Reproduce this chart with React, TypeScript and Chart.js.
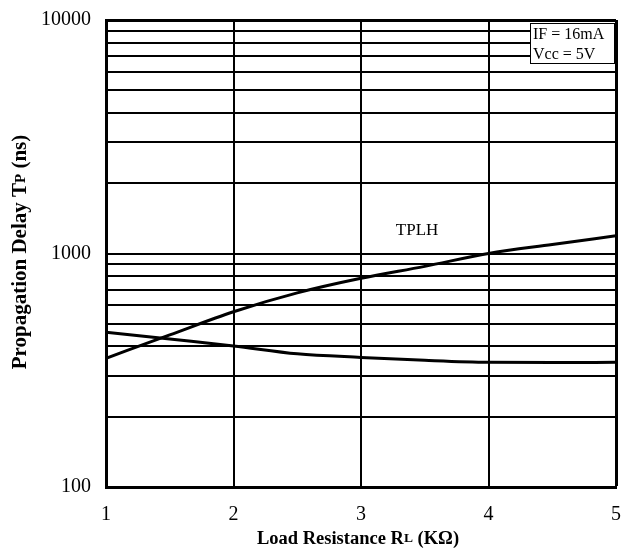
import React, { useEffect, useRef } from "react";
import { Chart, registerables } from "chart.js";

Chart.register(...registerables);

// ---- data ----
const xValues = [1, 1.5, 2, 2.5, 3, 3.5, 4, 4.5, 5];
const tplhValues = [356, 448, 563, 678, 783, 881, 1000, 1093, 1191];
const tphlValues = [460, 430, 402, 372, 359, 349, 342, 341, 342];
const xTickValues = [1, 2, 3, 4, 5];
const yGridValues = [
  100, 200, 300, 400, 500, 600, 700, 800, 900,
  1000, 2000, 3000, 4000, 5000, 6000, 7000, 8000, 9000, 10000,
];
const yLabelValues = [100, 1000, 10000];
const curveLabel = "TPLH";
const curveLabelPos = { x: 3.44, y: 1249 };
const conditionLines = ["IF = 16mA", "Vcc = 5V"];
const xTitleParts: [string, boolean][] = [["Load Resistance R", false], ["L", true], [" (KΩ)", false]];
const yTitleParts: [string, boolean][] = [["Propagation Delay T", false], ["P", true], [" (ns)", false]];

const FAMILY = "'Liberation Serif', 'Times New Roman', serif";

function drawParts(ctx: CanvasRenderingContext2D, parts: [string, boolean][], size: number, small: number) {
  let total = 0;
  const widths: number[] = [];
  for (const [t, s] of parts) {
    ctx.font = `bold ${s ? small : size}px ${FAMILY}`;
    const w = ctx.measureText(t).width;
    widths.push(w);
    total += w;
  }
  let x = -total / 2;
  parts.forEach(([t, s], i) => {
    ctx.font = `bold ${s ? small : size}px ${FAMILY}`;
    ctx.fillText(t, x, 0);
    x += widths[i];
  });
}

const annotationPlugin = {
  id: "annotations",
  afterDraw(chart: any) {
    const ctx: CanvasRenderingContext2D = chart.ctx;
    const area = chart.chartArea;
    const xs = chart.scales.x;
    const ys = chart.scales.y;
    ctx.save();
    ctx.fillStyle = "#000";

    // curve label
    ctx.font = `17px ${FAMILY}`;
    ctx.textAlign = "center";
    ctx.textBaseline = "middle";
    ctx.fillText(curveLabel, xs.getPixelForValue(curveLabelPos.x), ys.getPixelForValue(curveLabelPos.y));

    // conditions box
    const boxRight = area.right - 1;
    const boxLeft = area.right - 86;
    const boxTop = area.top + 3;
    const boxBottom = area.top + 44;
    ctx.fillStyle = "#fff";
    ctx.fillRect(boxLeft, boxTop, boxRight - boxLeft, boxBottom - boxTop);
    ctx.strokeStyle = "#000";
    ctx.lineWidth = 1;
    ctx.strokeRect(boxLeft + 0.5, boxTop + 0.5, boxRight - boxLeft - 1, boxBottom - boxTop - 1);
    ctx.fillStyle = "#000";
    ctx.font = `16px ${FAMILY}`;
    ctx.textAlign = "left";
    ctx.textBaseline = "middle";
    conditionLines.forEach((t, i) => {
      ctx.fillText(t, boxLeft + 3, boxTop + 12 + i * 20);
    });

    // axis titles
    ctx.textAlign = "left";
    ctx.textBaseline = "middle";
    ctx.save();
    ctx.translate((area.left + area.right) / 2 - 3, 539);
    drawParts(ctx, xTitleParts, 18.5, 13.5);
    ctx.restore();

    ctx.save();
    ctx.translate(21, 252);
    ctx.rotate(-Math.PI / 2);
    drawParts(ctx, yTitleParts, 21, 15);
    ctx.restore();

    ctx.restore();
  },
};

const zeroPad = (s: any) => {
  s.paddingTop = 0;
  s.paddingBottom = 0;
  s.paddingLeft = 0;
  s.paddingRight = 0;
};

export default function App() {
  const canvasRef = useRef<HTMLCanvasElement>(null);

  useEffect(() => {
    if (!canvasRef.current) return;
    const chart = new Chart(canvasRef.current, {
      type: "line",
      data: {
        datasets: [
          {
            label: "TPLH",
            data: xValues.map((x, i) => ({ x, y: tplhValues[i] })),
            borderColor: "#000",
            borderWidth: 3,
            pointRadius: 0,
            cubicInterpolationMode: "monotone",
            fill: false,
          },
          {
            label: "TPHL",
            data: xValues.map((x, i) => ({ x, y: tphlValues[i] })),
            borderColor: "#000",
            borderWidth: 3,
            pointRadius: 0,
            cubicInterpolationMode: "monotone",
            fill: false,
          },
        ],
      },
      options: {
        animation: false,
        responsive: false,
        maintainAspectRatio: false,
        layout: { padding: { top: 20, right: 16, left: 0, bottom: 0 } },
        plugins: {
          legend: { display: false },
          tooltip: { enabled: false },
          title: { display: false },
        },
        scales: {
          x: {
            type: "linear",
            min: 1,
            max: 5,
            afterBuildTicks: (s: any) => {
              s.ticks = xTickValues.map((v) => ({ value: v }));
            },
            afterFit: (s: any) => {
              s.height = 62;
              zeroPad(s);
            },
            ticks: {
              color: "#000",
              font: { family: FAMILY, size: 20 },
              padding: 16,
              maxRotation: 0,
              autoSkip: false,
              callback: (v: any) => String(v),
            },
            grid: {
              color: "#000",
              lineWidth: (c: any) => (c.tick && c.tick.value === 5 ? 3 : 2),
              drawTicks: false,
            },
            border: { color: "#000", width: 3 },
          },
          y: {
            type: "logarithmic",
            min: 100,
            max: 10000,
            afterBuildTicks: (s: any) => {
              s.ticks = yGridValues.map((v) => ({ value: v }));
            },
            afterFit: (s: any) => {
              s.width = 106;
              zeroPad(s);
            },
            ticks: {
              color: "#000",
              font: { family: FAMILY, size: 20 },
              padding: 15,
              autoSkip: false,
              callback: (v: any) => (yLabelValues.includes(Number(v)) ? String(v) : ""),
            },
            grid: {
              color: "#000",
              lineWidth: (c: any) => (c.tick && c.tick.value === 10000 ? 3 : 2),
              drawTicks: false,
            },
            border: { color: "#000", width: 3 },
          },
        },
      },
      plugins: [annotationPlugin],
    } as any);
    return () => chart.destroy();
  }, []);

  return (
    <div style={{ position: "absolute", left: 0, top: 0, width: 632, height: 549, background: "#fff" }}>
      <canvas ref={canvasRef} width={632} height={549} style={{ display: "block" }} />
    </div>
  );
}
